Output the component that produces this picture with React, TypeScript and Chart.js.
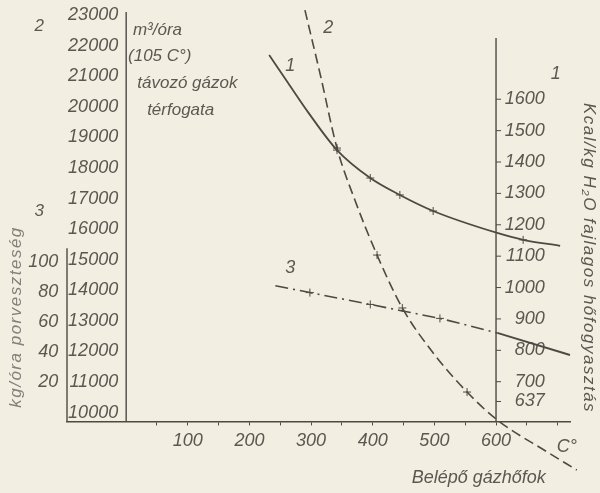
import React, { useEffect, useRef } from 'react';
import { Chart, registerables } from 'chart.js';

Chart.register(...registerables);

// ---- data ----
// Curve 1: specific heat consumption, kcal / kg H2O (right axis)
const TEMP_1 = [232, 263, 295, 342, 396, 444, 498, 602, 644, 704];
const HEAT_1 = [1741, 1651, 1559, 1438, 1349, 1295, 1244, 1174, 1152, 1133];
const MARK_1 = [0, 0, 0, 1, 1, 1, 1, 0, 1, 0];

// Curve 2: volume of the leaving gases, m3/h at 105 C (left axis "2")
const TEMP_2 = [290, 315, 342, 371, 407, 448, 498, 553, 602, 683, 731];
const GAS_VOLUME_2 = [23160, 21040, 18650, 16950, 15150, 13420, 11950, 10670, 9756, 8710, 8120];
const MARK_2 = [0, 0, 1, 0, 1, 1, 0, 1, 0, 0, 0];

// Curve 3: dust loss, kg/h (left axis "3")
const TEMP_3 = [242, 298, 396, 444, 509, 602, 720];
const DUST_LOSS_3 = [84.0, 79.4, 71.5, 67.5, 62.2, 52.5, 37.8];
const MARK_3 = [0, 1, 1, 0, 1, 0, 0];

// ---- axes ----
const X_TICKS = [50, 100, 150, 200, 250, 300, 350, 400, 450, 500, 550, 600, 650, 700];
const X_TICK_LABELS = ['', '100', '', '200', '', '300', '', '400', '', '500', '', '600', '', ''];
const Y2_TICKS = [10000, 11000, 12000, 13000, 14000, 15000, 16000, 17000, 18000, 19000, 20000, 21000, 22000, 23000];
const Y3_TICKS = [20, 40, 60, 80, 100];
const Y1_TICKS = [637, 700, 800, 900, 1000, 1100, 1200, 1300, 1400, 1500, 1600];

const X_MIN = -96;
const X_MAX = 720;
const Y2_MIN = 9690;
const Y2_MAX = 23100;
const Y3_MIN = -6.9;
const Y3_MAX = 266.5;
const Y1_MIN = 571.6;
const Y1_MAX = 1878;

const RIGHT_AXIS_T = 600;

// vertical axis lines: position on x, scale, extent
const AXIS_LINES = [
  { at: 0, scale: 'y2', from: Y2_MIN, to: Y2_MAX },
  { at: X_MIN, scale: 'y3', from: Y3_MIN, to: 109 },
  { at: RIGHT_AXIS_T, scale: 'y1', from: Y1_MIN, to: 1795 },
];

const INK = '#4e4a43';
const TEXT = '#5c5850';
const FAINT = '#85817a';
const PAPER = '#f2eee2';
const FAMILY = '"Liberation Sans", Arial, sans-serif';

// free texts, placed in (x, y2) coordinates
const ANNOTATIONS = [
  { text: '2', x: -141, y: 22640, size: 17, align: 'center', rot: 0, color: TEXT },
  { text: '3', x: -141, y: 16590, size: 17, align: 'center', rot: 0, color: TEXT },
  { text: 'm³/óra', x: 11, y: 22510, size: 17, align: 'left', rot: 0, color: TEXT },
  { text: '(105 C°)', x: 3, y: 21660, size: 17, align: 'left', rot: 0, color: TEXT },
  { text: 'távozó gázok', x: 18, y: 20776, size: 17, align: 'left', rot: 0, color: TEXT },
  { text: 'térfogata', x: 34, y: 19893, size: 17, align: 'left', rot: 0, color: TEXT },
  { text: '1', x: 266, y: 21332, size: 18, align: 'center', rot: 0, color: TEXT },
  { text: '2', x: 328, y: 22575, size: 18, align: 'center', rot: 0, color: TEXT },
  { text: '3', x: 266, y: 14727, size: 18, align: 'center', rot: 0, color: TEXT },
  { text: '1', x: 697, y: 21070, size: 18, align: 'center', rot: 0, color: TEXT },
  { text: 'C°', x: 715, y: 8874, size: 18, align: 'center', rot: 0, color: TEXT },
  { text: 'Belépő gázhőfok', x: 572, y: 7860, size: 18, align: 'center', rot: 0, color: TEXT },
  { text: 'kg/óra porveszteség', x: -178, y: 13125, size: 17, align: 'center', rot: -90, color: FAINT },
  { text: 'Kcal/kg H₂O fajlagos hőfogyasztás', x: 751, y: 15054, size: 17, align: 'center', rot: 90, color: TEXT },
];

const tickFont = { family: FAMILY, size: 18, style: 'italic' as const };

const decorPlugin = {
  id: 'decor',
  beforeDatasetsDraw(chart: any) {
    const { ctx, scales } = chart;
    const xs = scales.x;
    ctx.save();
    ctx.strokeStyle = INK;
    ctx.lineWidth = 1.4;
    for (const a of AXIS_LINES) {
      const px = xs.getPixelForValue(a.at);
      const ys = scales[a.scale];
      ctx.beginPath();
      ctx.moveTo(px, ys.getPixelForValue(a.from));
      ctx.lineTo(px, ys.getPixelForValue(a.to));
      ctx.stroke();
    }
    const rx = xs.getPixelForValue(RIGHT_AXIS_T);
    ctx.lineWidth = 1;
    ctx.beginPath();
    for (const v of Y1_TICKS) {
      const py = scales.y1.getPixelForValue(v);
      ctx.moveTo(rx, py);
      ctx.lineTo(rx + 5, py);
    }
    ctx.stroke();
    ctx.restore();
  },
  afterDraw(chart: any) {
    const { ctx, scales } = chart;
    ctx.save();
    ctx.textBaseline = 'middle';
    for (const a of ANNOTATIONS) {
      const px = scales.x.getPixelForValue(a.x);
      const py = scales.y2.getPixelForValue(a.y);
      ctx.fillStyle = a.color;
      ctx.font = `italic ${a.size}px ${FAMILY}`;
      ctx.textAlign = a.align as CanvasTextAlign;
      (ctx as any).letterSpacing = a.rot !== 0 ? '1.5px' : '0px';
      ctx.save();
      ctx.translate(px, py);
      ctx.rotate((a.rot * Math.PI) / 180);
      ctx.fillText(a.text, 0, 0);
      ctx.restore();
    }
    ctx.restore();
  },
};

function pts(xs: number[], ys: number[]) {
  return xs.map((x, i) => ({ x, y: ys[i] }));
}

export default function App() {
  const canvasRef = useRef<HTMLCanvasElement | null>(null);

  useEffect(() => {
    if (!canvasRef.current) return;
    const chart = new Chart(canvasRef.current, {
      type: 'line',
      data: {
        datasets: [
          {
            data: pts(TEMP_1, HEAT_1),
            yAxisID: 'y1',
            borderColor: INK,
            borderWidth: 1.8,
            cubicInterpolationMode: 'monotone',
            pointStyle: 'cross',
            pointRadius: MARK_1.map((m) => (m ? 4 : 0)),
            pointBorderColor: INK,
            pointBorderWidth: 1,
            fill: false,
            clip: false as any,
          },
          {
            data: pts(TEMP_2, GAS_VOLUME_2),
            yAxisID: 'y2',
            borderColor: INK,
            borderWidth: 1.6,
            borderDash: [10, 5],
            cubicInterpolationMode: 'monotone',
            pointStyle: 'cross',
            pointRadius: MARK_2.map((m) => (m ? 4 : 0)),
            pointBorderColor: INK,
            pointBorderWidth: 1,
            fill: false,
            clip: false as any,
          },
          {
            data: pts(TEMP_3, DUST_LOSS_3),
            yAxisID: 'y3',
            borderColor: INK,
            borderWidth: 1.6,
            borderDash: [13, 5, 2, 5],
            tension: 0,
            segment: {
              borderDash: (c: any) => (c.p0.parsed.x >= RIGHT_AXIS_T ? [] : [13, 5, 2, 5]),
              borderWidth: (c: any) => (c.p0.parsed.x >= RIGHT_AXIS_T ? 1.9 : 1.6),
            },
            pointStyle: 'cross',
            pointRadius: MARK_3.map((m) => (m ? 4 : 0)),
            pointBorderColor: INK,
            pointBorderWidth: 1,
            fill: false,
            clip: false as any,
          },
        ],
      },
      options: {
        animation: false,
        responsive: true,
        maintainAspectRatio: false,
        layout: { padding: { left: 67, right: 30, top: 12, bottom: 71 } },
        plugins: { legend: { display: false }, tooltip: { enabled: false } },
        scales: {
          x: {
            type: 'linear',
            min: X_MIN,
            max: X_MAX,
            position: { y2: Y2_MIN } as any,
            border: { display: true, color: INK, width: 1.4 },
            grid: { display: true, drawOnChartArea: false, drawTicks: true, tickLength: 3, color: INK },
            afterBuildTicks: (s: any) => {
              s.ticks = X_TICKS.map((v) => ({ value: v }));
            },
            ticks: {
              autoSkip: false,
              maxRotation: 0,
              padding: 5,
              color: TEXT,
              font: tickFont,
              callback: (_v: any, i: number) => X_TICK_LABELS[i] ?? '',
            },
          },
          y2: {
            type: 'linear',
            min: Y2_MIN,
            max: Y2_MAX,
            position: { x: -13 } as any,
            border: { display: false },
            grid: { display: false },
            afterBuildTicks: (s: any) => {
              s.ticks = Y2_TICKS.map((v) => ({ value: v }));
            },
            ticks: { autoSkip: false, padding: 0, color: TEXT, font: tickFont, callback: (v: any) => String(v) },
          },
          y3: {
            type: 'linear',
            min: Y3_MIN,
            max: Y3_MAX,
            position: { x: -110 } as any,
            border: { display: false },
            grid: { display: false },
            afterBuildTicks: (s: any) => {
              s.ticks = Y3_TICKS.map((v) => ({ value: v }));
            },
            ticks: { autoSkip: false, padding: 0, color: TEXT, font: tickFont, callback: (v: any) => String(v) },
          },
          y1: {
            type: 'linear',
            min: Y1_MIN,
            max: Y1_MAX,
            position: { x: 679 } as any,
            border: { display: false },
            grid: { display: false },
            afterBuildTicks: (s: any) => {
              s.ticks = Y1_TICKS.map((v) => ({ value: v }));
            },
            ticks: { autoSkip: false, padding: 0, color: TEXT, font: tickFont, callback: (v: any) => String(v) },
          },
        },
      },
      plugins: [decorPlugin],
    });
    return () => chart.destroy();
  }, []);

  return (
    <div style={{ position: 'fixed', left: 0, top: 0, width: 600, height: 493, background: PAPER }}>
      <canvas ref={canvasRef} />
    </div>
  );
}
